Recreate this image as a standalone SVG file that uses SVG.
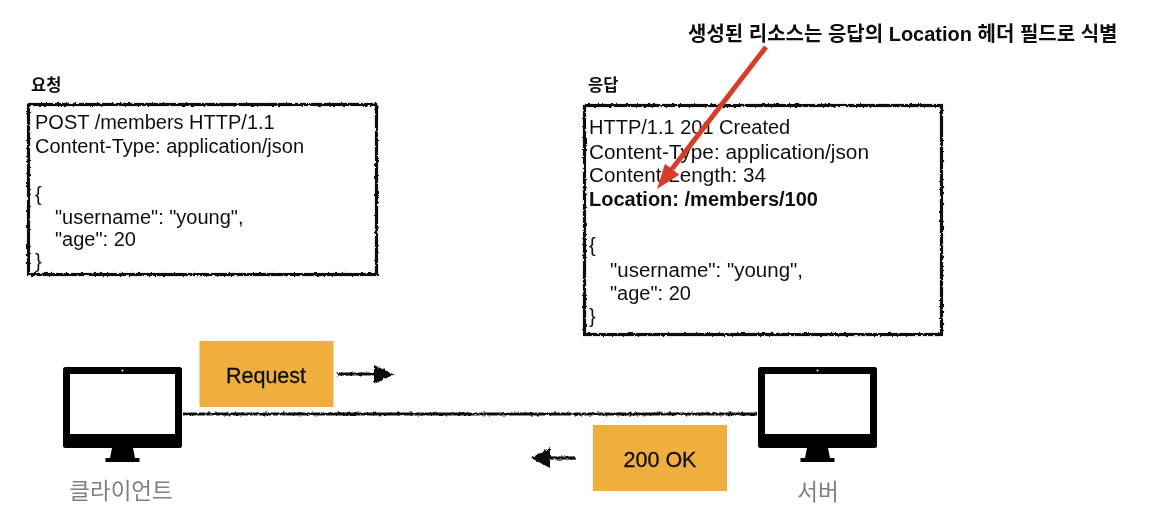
<svg xmlns="http://www.w3.org/2000/svg" width="1171" height="523" viewBox="0 0 1171 523">
<style>
text{font-family:"Liberation Sans","Noto Sans CJK KR",sans-serif;fill:#111}
.b{font-size:20px}
.h{font-size:16.500px;font-weight:700;font-family:"Noto Sans CJK KR",sans-serif}
.bold{font-weight:700}
.lab{font-size:21.500px;text-anchor:middle;stroke:#111;stroke-width:.3}
.gray{font-size:22.500px;text-anchor:middle;fill:#808080;font-family:"Noto Sans CJK KR",sans-serif}
.box{fill:#fff;stroke:#111;stroke-width:3.200}
.tag{fill:#f0ae3c}
.sk{filter:url(#rough)}
.ln{fill:none;stroke:#111;stroke-width:3.200}
.soft{filter:url(#soft)}
</style>
<defs>
<filter id="rough" x="0" y="0" width="1171" height="523" filterUnits="userSpaceOnUse">
<feTurbulence type="fractalNoise" baseFrequency="0.35" numOctaves="2" seed="4"/>
<feDisplacementMap in="SourceGraphic" scale="3" xChannelSelector="R" yChannelSelector="G"/>
<feGaussianBlur stdDeviation="0.350"/>
</filter>
<filter id="soft" x="0" y="0" width="1171" height="523" filterUnits="userSpaceOnUse"><feGaussianBlur stdDeviation="0.350"/></filter>
<g id="monitor-shape">
<rect x="63" y="367" width="119" height="81" rx="2.500" fill="#000"/>
<rect x="70" y="374" width="105" height="60" fill="#fff"/>
<circle cx="122.500" cy="370.500" r="1" fill="#fff"/>
<path d="M112 448H133L135 458H139.500V462H105.500V458H110Z" fill="#000"/>
</g>
</defs>
<rect width="1171" height="523" fill="#fff"/>

<g id="request-message" class="soft">
<text class="h" x="31" y="91">요청</text>
<rect class="box sk" x="28.500" y="104.500" width="348" height="170"/>
<text class="b" x="35" y="129">POST /members HTTP/1.1</text>
<text class="b" x="35" y="152.500">Content-Type: application/json</text>
<text class="b" x="35" y="201">{</text>
<text class="b" x="55" y="224">"username": "young",</text>
<text class="b" x="55" y="245.500">"age": 20</text>
<text class="b" x="35" y="268">}</text>
</g>

<g id="response-message" class="soft">
<text class="h" x="588" y="91">응답</text>
<rect class="box sk" x="584.500" y="105.500" width="357" height="229"/>
<text class="b" x="589" y="133.500">HTTP/1.1 201 Created</text>
<text class="b" x="589" y="158.500" textLength="280" lengthAdjust="spacingAndGlyphs">Content-Type: application/json</text>
<text class="b" x="589" y="182" textLength="177" lengthAdjust="spacingAndGlyphs">Content-Length: 34</text>
<text class="b bold" x="589" y="205.500">Location: /members/100</text>
<text class="b" x="589" y="252">{</text>
<text class="b" x="610" y="277" textLength="193" lengthAdjust="spacingAndGlyphs">"username": "young",</text>
<text class="b" x="610" y="300">"age": 20</text>
<text class="b" x="589" y="323">}</text>
</g>

<g id="connectors">
<path class="ln sk" d="M183 414H757"/>
<g class="sk">
<path class="ln" d="M337 374H376"/>
<path d="M374 365L394 374.500L374 384Z" fill="#111"/>
</g>
<g class="sk">
<path class="ln" d="M575 458H548"/>
<path d="M550 448L531 458L550 468Z" fill="#111"/>
</g>
</g>

<g id="client" class="soft">
<use href="#monitor-shape"/>
<text class="gray" x="121" y="499">클라이언트</text>
</g>
<g id="server" class="soft">
<use href="#monitor-shape" x="695"/>
<text class="gray" x="818" y="500">서버</text>
</g>
<g id="request-tag" class="soft">
<rect class="tag" x="199.500" y="341" width="134" height="66"/>
<text class="lab" x="266" y="383">Request</text>
</g>
<g id="ok-tag" class="soft">
<rect class="tag" x="593" y="425" width="134" height="66"/>
<text class="lab" x="660" y="467">200 OK</text>
</g>

<g id="annotation" class="soft">
<text x="688" y="41" style="font-size:20px;font-weight:700;font-family:'Liberation Sans','Noto Sans CJK KR',sans-serif">생성된 리소스는 응답의 Location 헤더 필드로 식별</text>
<path d="M766 47L672 169" fill="none" stroke="#d93a26" stroke-width="5"/>
<path d="M657 189L665 163.700L679.300 174.700Z" fill="#d93a26"/>
</g>
</svg>
